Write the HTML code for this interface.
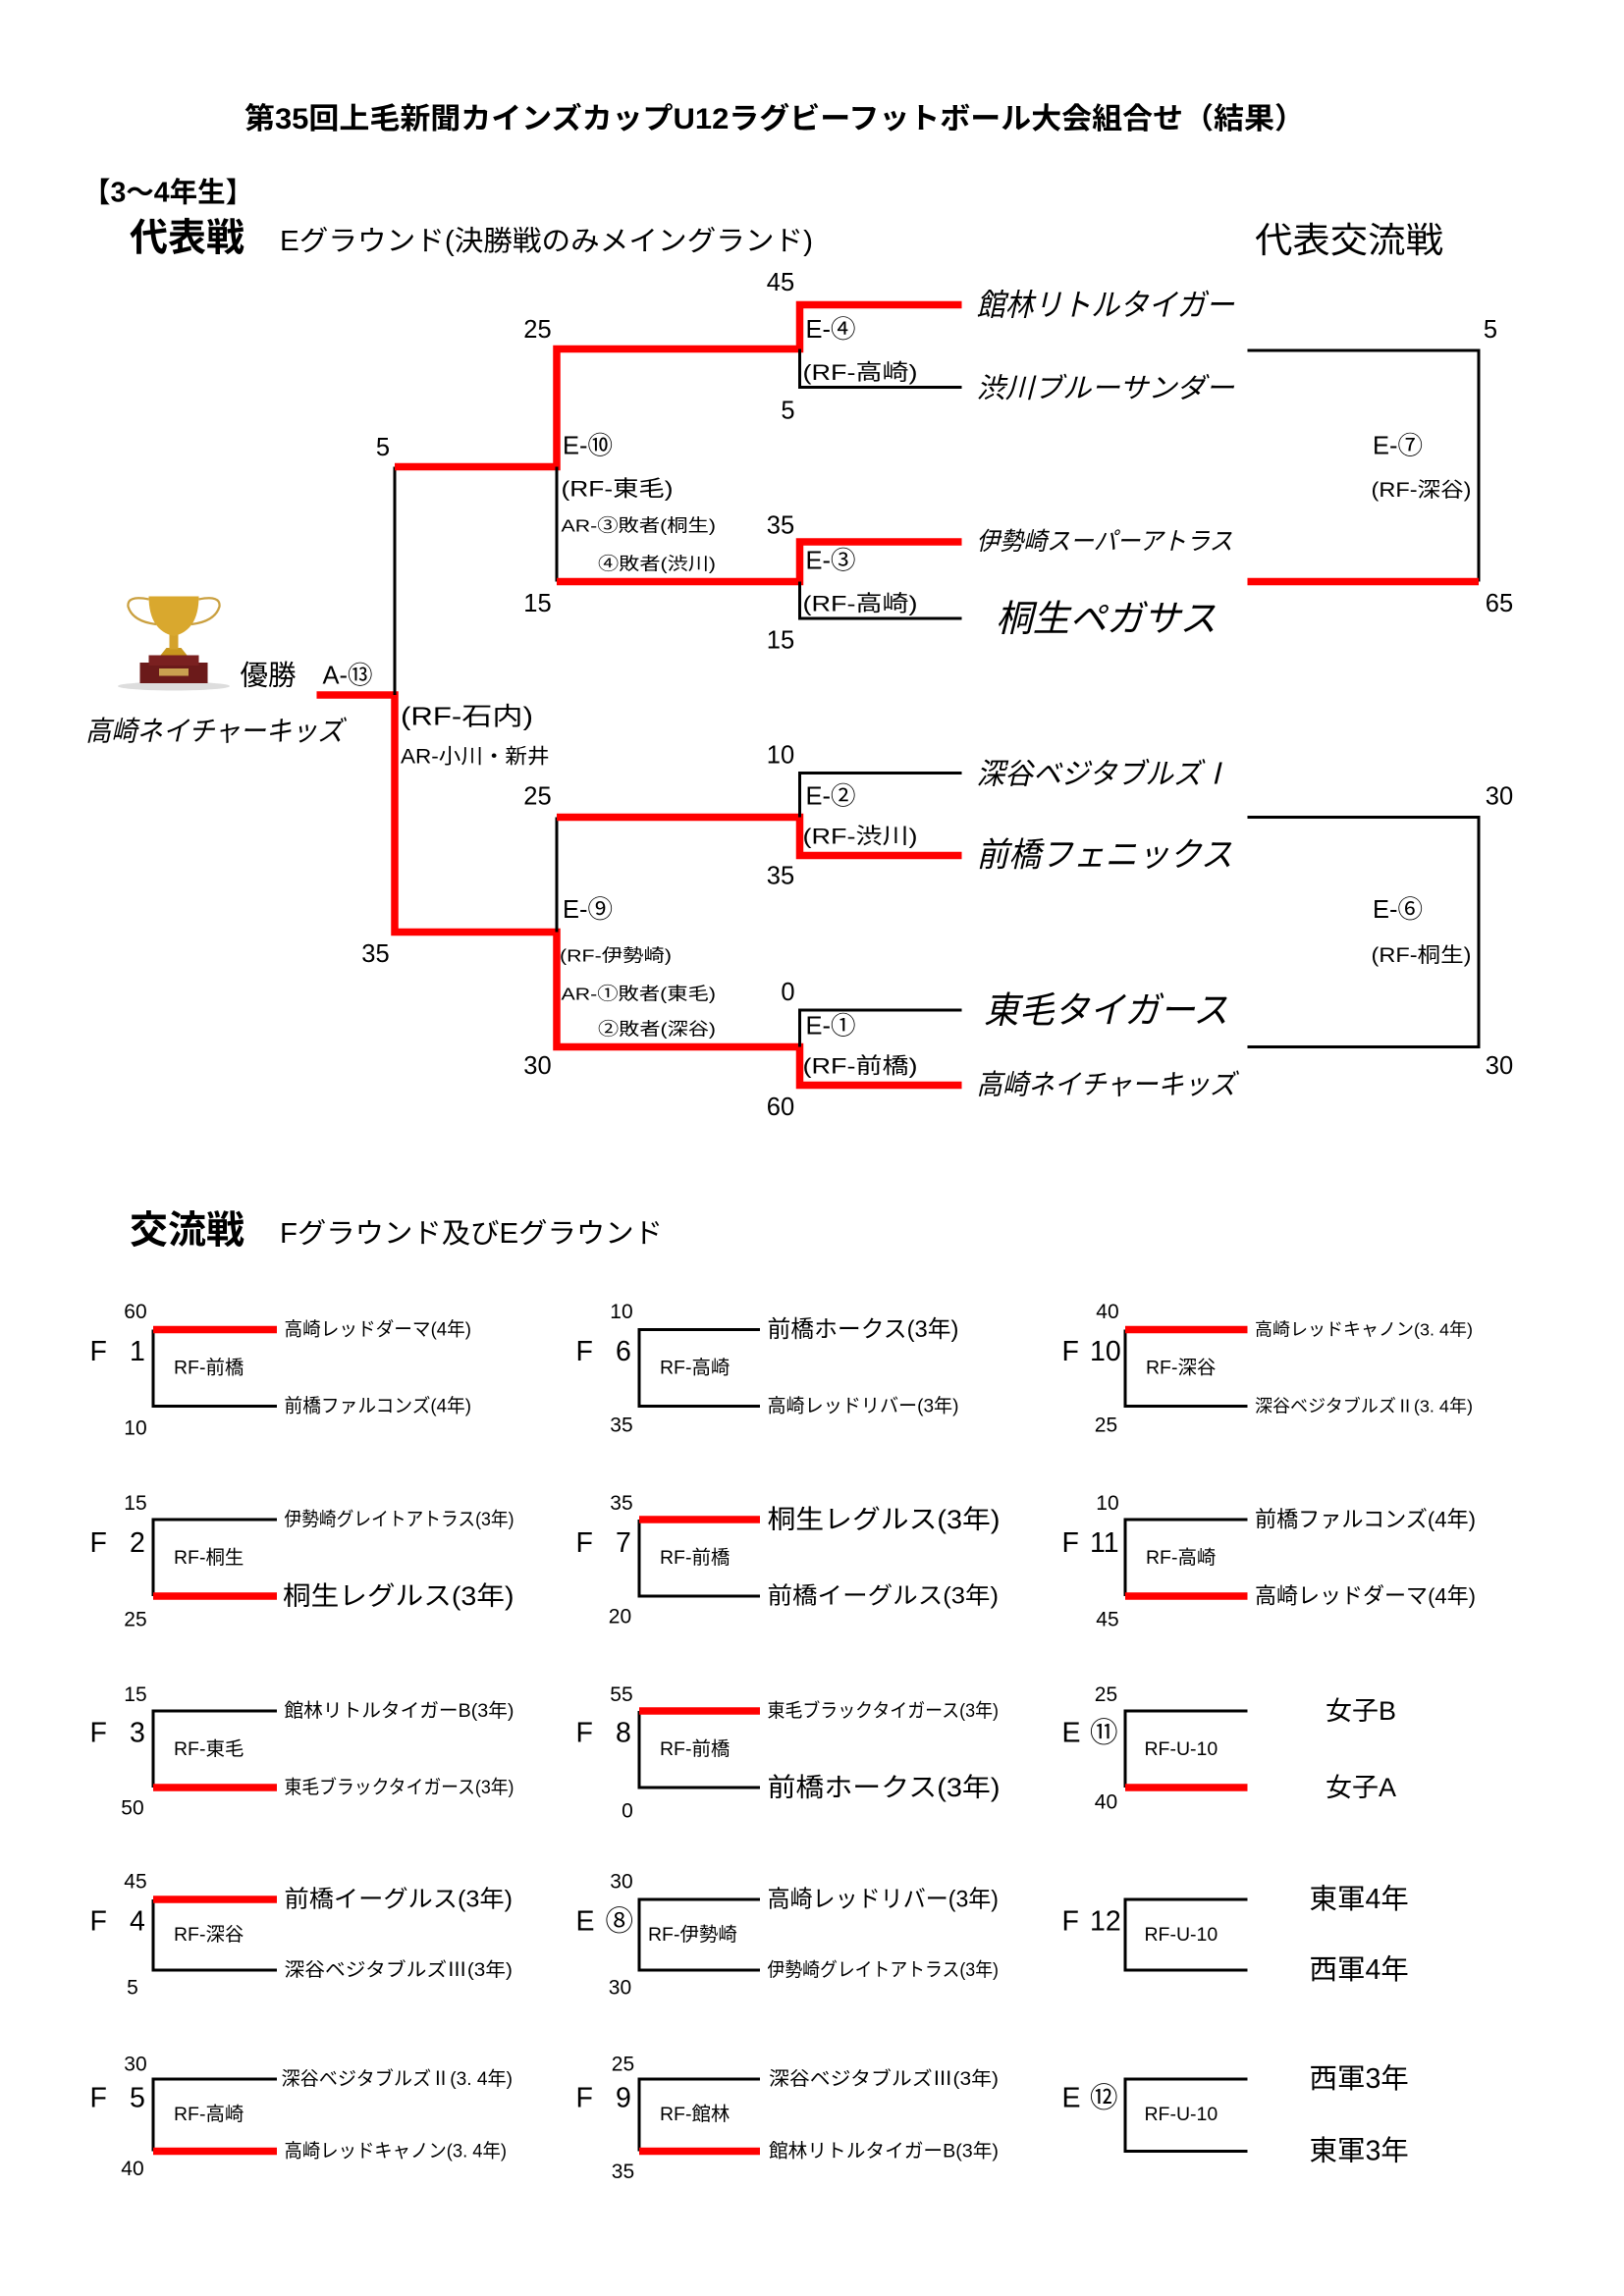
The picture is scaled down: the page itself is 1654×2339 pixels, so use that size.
<!DOCTYPE html>
<html><head><meta charset="utf-8">
<style>
html,body{margin:0;padding:0;background:#fff;}
svg{display:block;}
text{font-family:"Liberation Sans","Noto Sans CJK JP",sans-serif;fill:#000;}
.b{stroke:#000;stroke-width:2;fill:none;}
.r{stroke:#f00;stroke-width:5;fill:none;}
.it{font-style:italic;}
</style></head><body>
<svg width="1654" height="2339" viewBox="0 0 1102.67 1559.33" xmlns="http://www.w3.org/2000/svg">
<rect width="1102.67" height="1559.33" fill="#fff"/>
<text x="526" y="81" font-size="20" font-weight="bold" text-anchor="middle" dominant-baseline="central" textLength="720" lengthAdjust="spacingAndGlyphs">第35回上毛新聞カインズカップU12ラグビーフットボール大会組合せ（結果）</text>
<text x="56" y="131" font-size="19" font-weight="bold" dominant-baseline="central">【3～4年生】</text>
<text x="88" y="162" font-size="26" font-weight="bold" dominant-baseline="central">代表戦</text>
<text x="190" y="164" font-size="19" dominant-baseline="central" textLength="362" lengthAdjust="spacingAndGlyphs">Eグラウンド(決勝戦のみメイングランド)</text>
<text x="852" y="163" font-size="24" dominant-baseline="central" textLength="128" lengthAdjust="spacingAndGlyphs">代表交流戦</text>

<!-- final -->
<path class="r" d="M215 472 H268 V633 H378 V711 H543 V737 H653"/>
<path class="b" d="M268 472 V317"/>
<path class="r" d="M268 317 H378 V237 H543 V207 H653"/>
<path class="b" d="M378 317 V395"/>
<path class="r" d="M378 395 H543 V368 H653"/>
<path class="b" d="M543 237 V263 H653"/>
<path class="b" d="M543 395 V420 H653"/>
<path class="b" d="M378 633 V555"/>
<path class="r" d="M378 555 H543 V581 H653"/>
<path class="b" d="M543 555 V525 H653"/>
<path class="b" d="M543 711 V686 H653"/>
<path class="b" d="M847 238 H1004 V395"/>
<path class="r" d="M847 395 H1004"/>
<path class="b" d="M847 555 H1004 V711 H847"/>

<g font-size="17" dominant-baseline="central" text-anchor="middle">
<text x="530" y="192">45</text><text x="365" y="224">25</text><text x="535" y="279">5</text>
<text x="260" y="304">5</text><text x="530" y="357">35</text><text x="365" y="410">15</text>
<text x="530" y="435">15</text><text x="530" y="513">10</text><text x="365" y="541">25</text>
<text x="530" y="595">35</text><text x="255" y="648">35</text><text x="535" y="674">0</text>
<text x="365" y="724">30</text><text x="530" y="752">60</text>
<text x="1012" y="224">5</text><text x="1018" y="410">65</text>
<text x="1018" y="541">30</text><text x="1018" y="724">30</text>
</g>

<g class="it" dominant-baseline="central">
<text x="663" y="207" font-size="21" textLength="175" lengthAdjust="spacingAndGlyphs">館林リトルタイガー</text>
<text x="663" y="264" font-size="19" textLength="175" lengthAdjust="spacingAndGlyphs">渋川ブルーサンダー</text>
<text x="663" y="368" font-size="17" textLength="174" lengthAdjust="spacingAndGlyphs">伊勢崎スーパーアトラス</text>
<text x="676" y="420" font-size="25" textLength="150" lengthAdjust="spacingAndGlyphs">桐生ペガサス</text>
<text x="663" y="526" font-size="20" textLength="172" lengthAdjust="spacingAndGlyphs">深谷ベジタブルズⅠ</text>
<text x="663" y="581" font-size="23" textLength="174" lengthAdjust="spacingAndGlyphs">前橋フェニックス</text>
<text x="668" y="686" font-size="25" textLength="166" lengthAdjust="spacingAndGlyphs">東毛タイガース</text>
<text x="663" y="737" font-size="19" textLength="176" lengthAdjust="spacingAndGlyphs">高崎ネイチャーキッズ</text>
<text x="58" y="497" font-size="19" textLength="175" lengthAdjust="spacingAndGlyphs">高崎ネイチャーキッズ</text>
</g>

<g dominant-baseline="central" font-size="17">
<text x="547" y="224">E-④</text>
<text x="545" y="253" font-size="15" textLength="78" lengthAdjust="spacingAndGlyphs">(RF-高崎)</text>
<text x="382" y="303">E-⑩</text>
<text x="381" y="332" font-size="15" textLength="76" lengthAdjust="spacingAndGlyphs">(RF-東毛)</text>
<text x="381" y="357" font-size="12" textLength="105" lengthAdjust="spacingAndGlyphs">AR-③敗者(桐生)</text>
<text x="406" y="383" font-size="12" textLength="80" lengthAdjust="spacingAndGlyphs">④敗者(渋川)</text>
<text x="547" y="381">E-③</text>
<text x="545" y="410" font-size="15" textLength="78" lengthAdjust="spacingAndGlyphs">(RF-高崎)</text>
<text x="163" y="459" font-size="19">優勝</text>
<text x="219" y="459">A-⑬</text>
<text x="272" y="487" textLength="90" lengthAdjust="spacingAndGlyphs">(RF-石内)</text>
<text x="272" y="514" font-size="14" textLength="101" lengthAdjust="spacingAndGlyphs">AR-小川・新井</text>
<text x="547" y="541">E-②</text>
<text x="545" y="568" font-size="15" textLength="78" lengthAdjust="spacingAndGlyphs">(RF-渋川)</text>
<text x="382" y="618">E-⑨</text>
<text x="380" y="649" font-size="12" textLength="76" lengthAdjust="spacingAndGlyphs">(RF-伊勢崎)</text>
<text x="381" y="675" font-size="12" textLength="105" lengthAdjust="spacingAndGlyphs">AR-①敗者(東毛)</text>
<text x="406" y="699" font-size="12" textLength="80" lengthAdjust="spacingAndGlyphs">②敗者(深谷)</text>
<text x="547" y="697">E-①</text>
<text x="545" y="724" font-size="15" textLength="78" lengthAdjust="spacingAndGlyphs">(RF-前橋)</text>
<text x="932" y="303">E-⑦</text>
<text x="931" y="333" font-size="14" textLength="68" lengthAdjust="spacingAndGlyphs">(RF-深谷)</text>
<text x="932" y="618">E-⑥</text>
<text x="931" y="649" font-size="14" textLength="68" lengthAdjust="spacingAndGlyphs">(RF-桐生)</text>
</g>

<!-- trophy -->
<g>
<ellipse cx="118" cy="466" rx="38" ry="3" fill="#ddd"/>
<rect x="95" y="450" width="46" height="14" fill="#6b1a1a"/>
<rect x="101" y="445" width="34" height="7" fill="#7a2020"/>
<rect x="108" y="454" width="20" height="5" fill="#c9a050"/>
<path d="M109 445 L113 440 H123 L127 445Z" fill="#c8961e"/>
<rect x="115" y="430" width="6" height="11" fill="#d4a22a"/>
<path d="M101 405 H135 Q135 428 118 432 Q101 428 101 405Z" fill="#d9a82e"/>
<path d="M101 407 Q86 404 87 412 Q90 422 106 424" stroke="#caa040" stroke-width="1.5" fill="none"/>
<path d="M135 407 Q150 404 149 412 Q146 422 130 424" stroke="#caa040" stroke-width="1.5" fill="none"/>
</g>

<!-- 交流戦 -->
<text x="88" y="836" font-size="26" font-weight="bold" dominant-baseline="central">交流戦</text>
<text x="190" y="838" font-size="19" dominant-baseline="central" textLength="260" lengthAdjust="spacingAndGlyphs">Fグラウンド及びEグラウンド</text>

<g id="brk">
<!-- col1 -->
<path class="b" d="M188 955 H104 V903"/><path class="r" d="M104 903 H188"/>
<path class="b" d="M188 1032 H104 V1084"/><path class="r" d="M104 1084 H188"/>
<path class="b" d="M188 1162 H104 V1214"/><path class="r" d="M104 1214 H188"/>
<path class="b" d="M188 1338 H104 V1290"/><path class="r" d="M104 1290 H188"/>
<path class="b" d="M188 1412 H104 V1461"/><path class="r" d="M104 1461 H188"/>
<!-- col2 -->
<path class="b" d="M516 903 H434 V955 H516"/>
<path class="b" d="M516 1084 H434 V1032"/><path class="r" d="M434 1032 H516"/>
<path class="b" d="M516 1214 H434 V1162"/><path class="r" d="M434 1162 H516"/>
<path class="b" d="M516 1290 H434 V1338 H516"/>
<path class="b" d="M516 1412 H434 V1461"/><path class="r" d="M434 1461 H516"/>
<!-- col3 -->
<path class="b" d="M847 955 H764 V903"/><path class="r" d="M764 903 H847"/>
<path class="b" d="M847 1032 H764 V1084"/><path class="r" d="M764 1084 H847"/>
<path class="b" d="M847 1162 H764 V1214"/><path class="r" d="M764 1214 H847"/>
<path class="b" d="M847 1290 H764 V1338 H847"/>
<path class="b" d="M847 1412 H764 V1461 H847"/>
</g>

<g font-size="14" dominant-baseline="central" text-anchor="middle">
<text x="92" y="891">60</text><text x="92" y="970">10</text>
<text x="422" y="891">10</text><text x="422" y="968">35</text>
<text x="752" y="891">40</text><text x="751" y="968">25</text>
<text x="92" y="1021">15</text><text x="92" y="1100">25</text>
<text x="422" y="1021">35</text><text x="421" y="1098">20</text>
<text x="752" y="1021">10</text><text x="752" y="1100">45</text>
<text x="92" y="1151">15</text><text x="90" y="1228">50</text>
<text x="422" y="1151">55</text><text x="426" y="1230">0</text>
<text x="751" y="1151">25</text><text x="751" y="1224">40</text>
<text x="92" y="1278">45</text><text x="90" y="1350">5</text>
<text x="422" y="1278">30</text><text x="421" y="1350">30</text>
<text x="92" y="1402">30</text><text x="90" y="1473">40</text>
<text x="423" y="1402">25</text><text x="423" y="1475">35</text>
</g>

<g font-size="19" dominant-baseline="central">
<text x="61" y="918">F</text><text x="88" y="918">1</text>
<text x="391" y="918">F</text><text x="418" y="918">6</text>
<text x="721" y="918">F</text><text x="740" y="918">10</text>
<text x="61" y="1048">F</text><text x="88" y="1048">2</text>
<text x="391" y="1048">F</text><text x="418" y="1048">7</text>
<text x="721" y="1048">F</text><text x="740" y="1048">11</text>
<text x="61" y="1177">F</text><text x="88" y="1177">3</text>
<text x="391" y="1177">F</text><text x="418" y="1177">8</text>
<text x="721" y="1177">E</text><text x="740" y="1177">⑪</text>
<text x="61" y="1305">F</text><text x="88" y="1305">4</text>
<text x="391" y="1305">E</text><text x="411" y="1305">⑧</text>
<text x="721" y="1305">F</text><text x="740" y="1305">12</text>
<text x="61" y="1425">F</text><text x="88" y="1425">5</text>
<text x="391" y="1425">F</text><text x="418" y="1425">9</text>
<text x="721" y="1425">E</text><text x="740" y="1425">⑫</text>
</g>

<g font-size="13" dominant-baseline="central">
<text x="118" y="929">RF-前橋</text><text x="448" y="929">RF-高崎</text><text x="778" y="929">RF-深谷</text>
<text x="118" y="1058">RF-桐生</text><text x="448" y="1058">RF-前橋</text><text x="778" y="1058">RF-高崎</text>
<text x="118" y="1188">RF-東毛</text><text x="448" y="1188">RF-前橋</text><text x="777" y="1188">RF-U-10</text>
<text x="118" y="1314">RF-深谷</text><text x="440" y="1314">RF-伊勢崎</text><text x="777" y="1314">RF-U-10</text>
<text x="118" y="1436">RF-高崎</text><text x="448" y="1436">RF-館林</text><text x="777" y="1436">RF-U-10</text>
</g>

<g dominant-baseline="central">
<text x="193" y="903" font-size="13" textLength="127" lengthAdjust="spacingAndGlyphs">高崎レッドダーマ(4年)</text>
<text x="193" y="955" font-size="13" textLength="127" lengthAdjust="spacingAndGlyphs">前橋ファルコンズ(4年)</text>
<text x="521" y="903" font-size="16" textLength="130" lengthAdjust="spacingAndGlyphs">前橋ホークス(3年)</text>
<text x="521" y="955" font-size="13" textLength="130" lengthAdjust="spacingAndGlyphs">高崎レッドリバー(3年)</text>
<text x="852" y="903" font-size="12" textLength="148" lengthAdjust="spacingAndGlyphs">高崎レッドキャノン(3. 4年)</text>
<text x="852" y="955" font-size="12" textLength="148" lengthAdjust="spacingAndGlyphs">深谷ベジタブルズⅡ(3. 4年)</text>

<text x="193" y="1032" font-size="13" textLength="156" lengthAdjust="spacingAndGlyphs">伊勢崎グレイトアトラス(3年)</text>
<text x="192" y="1084" font-size="18" textLength="157" lengthAdjust="spacingAndGlyphs">桐生レグルス(3年)</text>
<text x="521" y="1032" font-size="18" textLength="158" lengthAdjust="spacingAndGlyphs">桐生レグルス(3年)</text>
<text x="521" y="1084" font-size="16" textLength="157" lengthAdjust="spacingAndGlyphs">前橋イーグルス(3年)</text>
<text x="852" y="1032" font-size="15" textLength="150" lengthAdjust="spacingAndGlyphs">前橋ファルコンズ(4年)</text>
<text x="852" y="1084" font-size="15" textLength="150" lengthAdjust="spacingAndGlyphs">高崎レッドダーマ(4年)</text>

<text x="193" y="1162" font-size="13" textLength="156" lengthAdjust="spacingAndGlyphs">館林リトルタイガーB(3年)</text>
<text x="193" y="1214" font-size="13" textLength="156" lengthAdjust="spacingAndGlyphs">東毛ブラックタイガース(3年)</text>
<text x="521" y="1162" font-size="13" textLength="157" lengthAdjust="spacingAndGlyphs">東毛ブラックタイガース(3年)</text>
<text x="521" y="1214" font-size="18" textLength="158" lengthAdjust="spacingAndGlyphs">前橋ホークス(3年)</text>
<text x="900" y="1162" font-size="18">女子B</text>
<text x="900" y="1214" font-size="18">女子A</text>

<text x="193" y="1290" font-size="16" textLength="155" lengthAdjust="spacingAndGlyphs">前橋イーグルス(3年)</text>
<text x="193" y="1338" font-size="13" textLength="155" lengthAdjust="spacingAndGlyphs">深谷ベジタブルズⅢ(3年)</text>
<text x="521" y="1290" font-size="16" textLength="157" lengthAdjust="spacingAndGlyphs">高崎レッドリバー(3年)</text>
<text x="521" y="1338" font-size="13" textLength="157" lengthAdjust="spacingAndGlyphs">伊勢崎グレイトアトラス(3年)</text>
<text x="889" y="1290" font-size="19">東軍4年</text>
<text x="889" y="1338" font-size="19">西軍4年</text>

<text x="191" y="1412" font-size="13" textLength="157" lengthAdjust="spacingAndGlyphs">深谷ベジタブルズⅡ(3. 4年)</text>
<text x="193" y="1461" font-size="13" textLength="151" lengthAdjust="spacingAndGlyphs">高崎レッドキャノン(3. 4年)</text>
<text x="522" y="1412" font-size="13" textLength="156" lengthAdjust="spacingAndGlyphs">深谷ベジタブルズⅢ(3年)</text>
<text x="522" y="1461" font-size="13" textLength="156" lengthAdjust="spacingAndGlyphs">館林リトルタイガーB(3年)</text>
<text x="889" y="1412" font-size="19">西軍3年</text>
<text x="889" y="1461" font-size="19">東軍3年</text>
</g>
</svg>
</body></html>
